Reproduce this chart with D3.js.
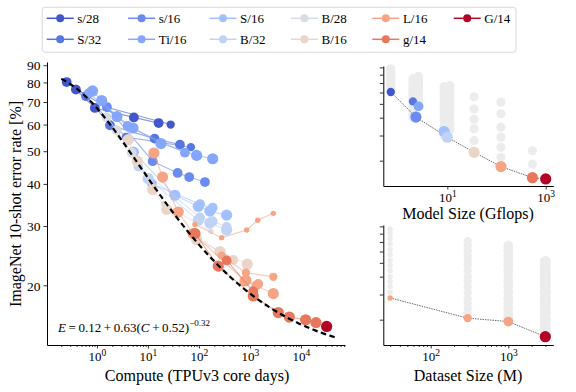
<!DOCTYPE html>
<html>
<head>
<meta charset="utf-8">
<script src="https://cdn.jsdelivr.net/npm/d3@7"></script>
<style>
  body { margin: 0; background: #fff; }
  text { font-family: "Liberation Serif", "Times New Roman", serif; }
</style>
</head>
<body>
<div id="chart"></div>
<script>
// ---- data ----
const models = ["s/28", "S/32", "s/16", "Ti/16", "S/16", "B/32", "B/28", "B/16", "L/16", "g/14", "G/14"];
const modelColors = ["#4257c9", "#5877e2", "#6a8bef", "#85a7fb", "#a2c0fe", "#c0d3f5", "#d8dce3", "#ead5c9", "#f5a586", "#e7775d", "#b40426"];

// training runs: compute (TPUv3 core days) vs 10-shot error (%), dataset size in M
const runs = [
  { model: "s/28", data: 1000, pts: [[0.255, 80.2], [0.387, 76.2], [0.91, 67.2], [5.3, 63.0], [16.2, 60.6]] },
  { model: "s/28", data: 300, pts: [[0.387, 76.5], [1.55, 67.5], [27.9, 60.0]] },
  { model: "S/32", data: 1000, pts: [[0.61, 72.9], [1.8, 59.7], [13.5, 54.5], [42.4, 52.3]] },
  { model: "S/32", data: 300, pts: [[0.61, 72.5], [3.7, 55.1], [69.6, 51.4]] },
  { model: "s/16", data: 1000, pts: [[1.57, 67.6], [12.4, 46.7], [38.2, 43.1], [64.5, 41.9], [131, 40.5]] },
  { model: "Ti/16", data: 3000, pts: [[0.82, 75.5], [1.24, 70.7], [2.47, 63.4], [5.1, 58.6], [18, 52.7], [90, 48.6], [186, 47.5]] },
  { model: "Ti/16", data: 1000, pts: [[0.7, 74.4], [4.0, 59.4], [53, 49.5]] },
  { model: "S/16", data: 3000, pts: [[5.2, 49.7], [33.8, 37.0], [97, 34.3], [164, 33.2], [349, 32.3]] },
  { model: "S/16", data: 1000, pts: [[12, 40.0], [105, 34.8], [186, 34.0]] },
  { model: "B/32", data: 3000, pts: [[10.1, 41.5], [97, 31.2], [164, 30.6], [349, 29.2]] },
  { model: "B/32", data: 1000, pts: [[6.5, 45.0], [105, 31.8], [186, 31.0], [349, 29.8]] },
  { model: "B/28", data: 1000, pts: [[1.55, 63.1], [2.43, 57.7], [4.8, 49.5]] },
  { model: "B/28", data: 30, pts: [[20, 35.0], [172, 28.9]] },
  { model: "B/16", data: 3000, pts: [[4.1, 54.1], [6.2, 46.7], [12.4, 38.5], [23.3, 33.6], [90, 27.3], [258, 25.2], [885, 23.1]] },
  { model: "B/16", data: 1000, pts: [[90, 27.8], [471, 23.8]] },
  { model: "L/16", data: 3000, pts: [[13.1, 49.4], [19.4, 41.9], [39.3, 33.0], [77, 28.5], [799, 20.6], [2870, 18.9]] },
  { model: "L/16", data: 1000, pts: [[862, 20.7], [1350, 20.0], [1455, 20.2]] },
  { model: "L/16", data: 30, pts: [[83.5, 30.3], [279, 27.7], [862, 29.2], [1420, 31.2], [2870, 32.7]] },
  { model: "L/16", data: 300, pts: [[279, 24.5], [835, 21.8], [2870, 21.2]] },
  { model: "g/14", data: 3000, pts: [[83.5, 28.5], [239, 22.8], [1160, 18.6], [3590, 16.6], [5900, 16.1], [12360, 15.8], [19700, 15.5]] },
  { model: "g/14", data: 1000, pts: [[349, 23.7], [1160, 19.2]] },
  { model: "G/14", data: 3000, pts: [[31900, 15.1]] }
];

// fitted law E = a + b (C + c)^-k, drawn over this compute range
const fitParams = { a: 0.12, b: 0.63, c: 0.52, k: 0.32 };
const fitRange = [0.2, 46000];

const errTicks = [20, 30, 40, 50, 60, 70, 80, 90];

// model size panel
const modelGflops = [0.71, 2.0, 2.3, 2.6, 8.6, 10, 11.3, 35, 123, 537, 1000];
const greyBySize = [
  { gflops: 0.71, errs: [88, 85, 82, 79, 76, 73, 70, 67, 64] },
  { gflops: 2.0, errs: [75, 71, 67, 63, 60, 57, 54, 51, 48, 45, 42, 40] },
  { gflops: 2.6, errs: [78, 74, 70, 66, 62, 58, 55, 52, 49] },
  { gflops: 8.6, errs: [66, 62, 58, 54, 50, 47, 44, 41, 38, 35, 32, 30] },
  { gflops: 11.3, errs: [67, 63, 59, 55, 51, 48, 45, 42, 39, 36, 33] },
  { gflops: 35, errs: [56, 46, 39, 33.4, 27.6] },
  { gflops: 123, errs: [51.4, 42.6, 34.3, 29.2, 24.8, 21.1] },
  { gflops: 537, errs: [23.5, 18.9] }
];
const bestBySize = [
  { model: "s/28", err: 60.5, data: 300 },
  { model: "S/32", err: 52.0, data: 300 },
  { model: "Ti/16", err: 48.0, data: 1000 },
  { model: "s/16", err: 40.4, data: 3000 },
  { model: "S/16", err: 32.0, data: 3000 },
  { model: "B/32", err: 29.2, data: 3000 },
  { model: "B/16", err: 22.9, data: 3000 },
  { model: "L/16", err: 18.2, data: 3000 },
  { model: "g/14", err: 15.2, data: 3000 },
  { model: "G/14", err: 14.9, data: 3000 }
];
const sizeFrontier = ["s/28", "s/16", "B/32", "B/16", "L/16", "g/14", "G/14"];

// dataset size panel
const greyByData = [
  { data: 30, errs: [86, 80, 74, 68, 62, 57, 52, 48, 44, 40, 37, 34, 31] },
  { data: 300, errs: [71, 66, 61, 56, 52, 48, 44, 40, 37, 34, 31, 28, 26, 24, 22] },
  { data: 1000, errs: [66, 61, 56, 52, 48, 44, 40, 37, 34, 31, 28, 26, 24, 22, 20.5] },
  { data: 3000, errs: [51, 47, 43, 40, 37, 34, 31, 28, 26, 24, 22, 20, 18.5, 17, 16] }
];
const bestByData = [
  { data: 30, err: 28.4, model: "L/16" },
  { data: 300, err: 20.5, model: "L/16" },
  { data: 1000, err: 19.4, model: "L/16" },
  { data: 3000, err: 15.2, model: "G/14" }
];

// ---- drawing ----
const W = 576, H = 392;
const svg = d3.select("#chart").append("svg").attr("width", W).attr("height", H)
  .attr("font-family", "Liberation Serif, serif");

const color = d3.scaleOrdinal().domain(models).range(modelColors);
const radius = d3.scaleLog().domain([30, 3000]).range([2.7, 5.6]);
const errDomain = [13.3, 92];

// main panel scales
const x = d3.scaleLog().domain([0.105, 73000]).range([47, 345]);
const y = d3.scaleLog().domain(errDomain).range([345, 62]);
// side panels
const xs = d3.scaleLog().domain([0.5, 1426]).range([383.3, 553.3]);
const ys = d3.scaleLog().domain(errDomain).range([186, 66]);
const xd = d3.scaleLog().domain([24.5, 3800]).range([383.3, 553.3]);
const yd = d3.scaleLog().domain(errDomain).range([345, 225]);

function logTicks(scale) {
  const [d0, d1] = scale.domain();
  const out = [];
  for (let e = Math.floor(Math.log10(d0)); e <= Math.ceil(Math.log10(d1)); e++) {
    for (let k = 1; k < 10; k++) {
      const v = k * Math.pow(10, e);
      if (v >= d0 && v <= d1) out.push({ v, major: k === 1 });
    }
  }
  return out;
}

function styleAxis(g, fs) {
  g.attr("font-family", "Liberation Serif, serif");
  g.select(".domain").attr("stroke", "#000").attr("stroke-width", 1);
  g.selectAll(".tick line").attr("stroke", "#000").attr("stroke-width", 0.8);
  g.selectAll(".tick text").attr("font-size", fs).attr("fill", "#000");
}

function powLabels(g) {
  g.selectAll(".tick text").each(function(d) {
    const t = d3.select(this);
    t.text(null);
    t.append("tspan").text("10");
    t.append("tspan").attr("dy", "-0.45em").attr("font-size", "9.5px").text(Math.round(Math.log10(d)));
  });
}

function xAxisLog(scale, yPos, majors, minor) {
  const ticks = logTicks(scale);
  if (minor) {
    const gm = svg.append("g").attr("transform", `translate(0,${yPos})`)
      .call(d3.axisBottom(scale).tickValues(ticks.filter(t => !t.major).map(t => t.v)).tickSize(2).tickSizeOuter(0).tickFormat(""));
    styleAxis(gm, 13);
    gm.select(".domain").remove();
  }
  const g = svg.append("g").attr("transform", `translate(0,${yPos})`)
    .call(d3.axisBottom(scale).tickValues(majors).tickSize(3.5).tickSizeOuter(0).tickPadding(3));
  styleAxis(g, 13);
  powLabels(g);
  return g;
}

function yAxis(scale, xPos, labels) {
  const g = svg.append("g").attr("transform", `translate(${xPos},0)`)
    .call(d3.axisLeft(scale).tickValues(errTicks).tickSize(3.5).tickSizeOuter(0).tickPadding(3)
      .tickFormat(labels ? d3.format("d") : ""));
  styleAxis(g, 13.5);
  g.selectAll(".tick text").attr("dy", "0.35em");
}

// --- main panel ---
xAxisLog(x, 345, [1, 10, 100, 1000, 10000], true);
yAxis(y, 47, true);

const line = d3.line().x(d => x(d[0])).y(d => y(d[1]));

models.forEach(m => {
  const mr = runs.filter(r => r.model === m);
  svg.append("g").selectAll("path").data(mr).join("path")
    .attr("d", r => line(r.pts))
    .attr("fill", "none")
    .attr("stroke", color(m))
    .attr("stroke-opacity", 0.6)
    .attr("stroke-width", 1.1);
  mr.forEach(r => {
    svg.append("g").selectAll("circle").data(r.pts).join("circle")
      .attr("cx", d => x(d[0]))
      .attr("cy", d => y(d[1]))
      .attr("r", radius(r.data))
      .attr("fill", color(m));
  });
});

// fitted curve
const fitC = d3.range(0, 201).map(i => fitRange[0] * Math.pow(fitRange[1] / fitRange[0], i / 200));
const fitPts = fitC.map(c => [c, 100 * (fitParams.a + fitParams.b * Math.pow(c + fitParams.c, -fitParams.k))]);
svg.append("path")
  .attr("d", line(fitPts))
  .attr("fill", "none")
  .attr("stroke", "#000")
  .attr("stroke-width", 2.2)
  .attr("stroke-dasharray", "5.5,3.5");

// equation
const eq = svg.append("text").attr("x", 58).attr("y", 331.5).attr("font-size", 13).attr("fill", "#000");
eq.append("tspan").attr("font-style", "italic").text("E");
eq.append("tspan").text("\u2009=\u20090.12\u2009+\u20090.63(");
eq.append("tspan").attr("font-style", "italic").text("C");
eq.append("tspan").text("\u2009+\u20090.52)");
eq.append("tspan").attr("dy", -6).attr("font-size", 9).text("\u22120.32");

// axis labels
svg.append("text").attr("x", 197).attr("y", 381).attr("text-anchor", "middle").attr("font-size", 16).text("Compute (TPUv3 core days)");
svg.append("text").attr("transform", `translate(20.5,204) rotate(-90)`).attr("text-anchor", "middle").attr("font-size", 16).text("ImageNet 10-shot error rate [%]");

// --- model size panel ---
xAxisLog(xs, 186, [10, 1000], false);
yAxis(ys, 383.3, false);
greyBySize.forEach(c => {
  svg.append("g").selectAll("circle").data(c.errs).join("circle")
    .attr("cx", xs(c.gflops)).attr("cy", d => ys(d)).attr("r", 4.6).attr("fill", "#ececec");
});
const sizeLine = d3.line().x(d => xs(modelGflops[models.indexOf(d.model)])).y(d => ys(d.err));
svg.append("path")
  .attr("d", sizeLine(bestBySize.filter(d => sizeFrontier.includes(d.model))))
  .attr("fill", "none").attr("stroke", "#444").attr("stroke-width", 0.8).attr("stroke-dasharray", "1.5,1");
svg.append("g").selectAll("circle").data(bestBySize).join("circle")
  .attr("cx", d => xs(modelGflops[models.indexOf(d.model)]))
  .attr("cy", d => ys(d.err))
  .attr("r", d => radius(d.data))
  .attr("fill", d => color(d.model));
svg.append("text").attr("x", 468).attr("y", 219).attr("text-anchor", "middle").attr("font-size", 16).text("Model Size (Gflops)");

// --- dataset size panel ---
xAxisLog(xd, 345, [100, 1000], true);
yAxis(yd, 383.3, false);
greyByData.forEach(c => {
  svg.append("g").selectAll("circle").data(c.errs).join("circle")
    .attr("cx", xd(c.data)).attr("cy", d => yd(d)).attr("r", radius(c.data)).attr("fill", "#ececec");
});
const dataLine = d3.line().x(d => xd(d.data)).y(d => yd(d.err));
svg.append("path")
  .attr("d", dataLine(bestByData))
  .attr("fill", "none").attr("stroke", "#444").attr("stroke-width", 0.8).attr("stroke-dasharray", "1.5,1");
svg.append("g").selectAll("circle").data(bestByData).join("circle")
  .attr("cx", d => xd(d.data))
  .attr("cy", d => yd(d.err))
  .attr("r", d => radius(d.data))
  .attr("fill", d => color(d.model));
svg.append("text").attr("x", 468).attr("y", 381).attr("text-anchor", "middle").attr("font-size", 16).text("Dataset Size (M)");

// --- legend ---
const legend = svg.append("g");
legend.append("rect").attr("x", 42.3).attr("y", 7.3).attr("width", 473.7).attr("height", 45)
  .attr("rx", 3).attr("fill", "#fff").attr("stroke", "#d0d0d0").attr("stroke-width", 0.8);
models.forEach((m, i) => {
  const col = Math.floor(i / 2), row = i % 2;
  const lx = 46.7 + col * 81.4, ly = 18.3 + row * 21;
  const g = legend.append("g").attr("transform", `translate(${lx},${ly})`);
  g.append("line").attr("x1", 0).attr("x2", 27).attr("stroke", color(m)).attr("stroke-width", 1.5);
  g.append("circle").attr("cx", 13.5).attr("r", 4).attr("fill", color(m));
  g.append("text").attr("x", 30.6).attr("dy", "0.35em").attr("font-size", 13).text(m);
});
</script>
</body>
</html>
